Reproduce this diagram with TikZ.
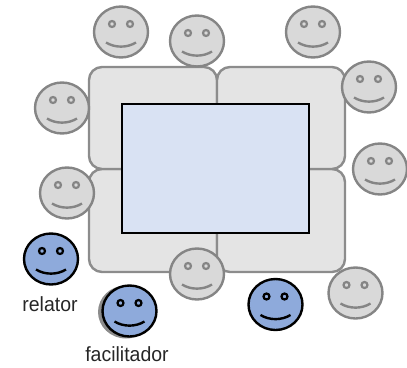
\documentclass[tikz,border=0pt]{standalone}
\usepackage{fontspec}
\setmainfont{Liberation Sans}
\definecolor{tablefill}{HTML}{E4E4E4}
\definecolor{tableline}{HTML}{8C8C8C}
\definecolor{facegrey}{HTML}{D9D9D9}
\definecolor{lineg}{HTML}{858585}
\definecolor{faceblue}{HTML}{8EAADB}
\definecolor{screenfill}{HTML}{D9E2F3}
\tikzset{
  x=1pt,y=-1pt,
  tablebox/.style={draw=tableline,fill=tablefill,line width=2.4pt,rounded corners=13pt},
  screenbox/.style={draw=black,fill=screenfill,line width=2.8pt},
  lbl/.style={font=\fontsize{20.5}{20.5}\selectfont,inner sep=0pt,text=black!85,xscale=.95},
  pics/smiley/.style 2 args={code={
    \draw[draw=#2,fill=#1,line width=2.4pt] (0,0) ellipse [x radius=27,y radius=25.5];
    \draw[draw=#2,fill=#1,line width=2.2pt] (-9,-8) circle (3);
    \draw[draw=#2,fill=#1,line width=2.2pt] (9,-8) circle (3);
    \draw[draw=#2,line width=2.4pt] (-15,10.5) .. controls (-6,16) and (6,16) .. (15,10.5);
  }}
}
\begin{document}
\begin{tikzpicture}
\useasboundingbox (0,0) rectangle (407,367);
\draw[tablebox] (89,169) rectangle (217,272);
\draw[tablebox] (217,169) rectangle (345,272);
\draw[tablebox] (89,67) rectangle (217,169);
\draw[tablebox] (217,67) rectangle (345,169);
\node[screenbox,minimum width=187pt,minimum height=129pt,inner sep=0pt,anchor=center] (screen) at (215.5,168.5) {};
\foreach \px/\py in {121/32,197/41,313/32,369/87,380/169,62/108,67/193,197/274,355.5/293}
  \pic at (\px,\py) {smiley={facegrey}{lineg}};
\pic at (51,259) {smiley={faceblue}{black}};
\fill[black!45] (126,312) ellipse [x radius=28,y radius=26.5];
\pic at (129.5,311) {smiley={faceblue}{black}};
\pic at (275.5,304.5) {smiley={faceblue}{black}};
\node[lbl] (relator) at (50,304) {relator};
\node[lbl] (facilitador) at (127,354) {facilitador};
\end{tikzpicture}
\end{document}
